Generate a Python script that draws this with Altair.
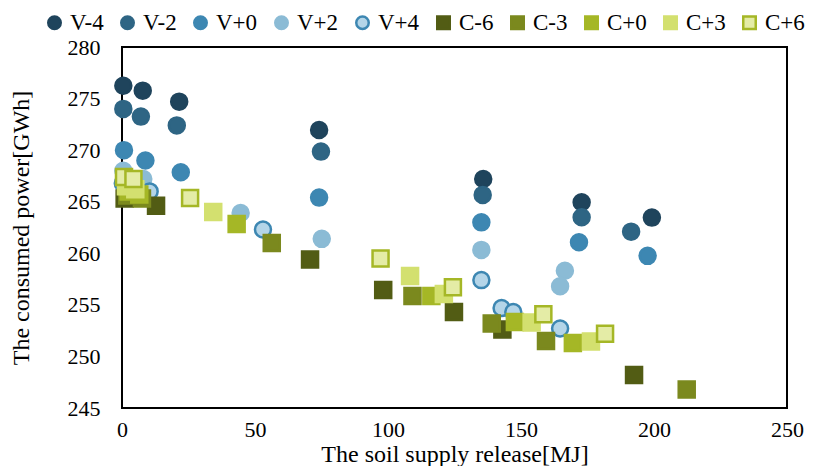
import altair as alt
import pandas as pd

# ---- series definitions ----
series = ["V-4", "V-2", "V+0", "V+2", "V+4", "C-6", "C-3", "C+0", "C+3", "C+6"]
fill_colors = ["#1f445c", "#2e6584", "#3d87b2", "#8bbbd5", "#b4d5e8",
               "#525c14", "#7b891e", "#a5b726", "#d3e06f", "#e4eca6"]
stroke_colors = ["#1f445c", "#2e6584", "#3d87b2", "#8bbbd5", "#3d87b2",
                 "#525c14", "#7b891e", "#a5b726", "#d3e06f", "#a5b726"]
shapes = ["circle"] * 5 + ["square"] * 5

# ---- values ----
vm4_x = [0.5, 7.8, 21.5, 74.1, 135.8, 172.8, 199.2]
vm4_y = [276.25, 275.77, 274.7, 271.96, 267.2, 264.95, 263.46]
vm2_x = [0.5, 7.1, 20.6, 74.8, 135.6, 172.8, 191.4]
vm2_y = [274.0, 273.25, 272.4, 269.86, 265.66, 263.5, 262.1]
vp0_x = [0.75, 8.8, 22.1, 74.1, 135.1, 171.8, 197.6]
vp0_y = [270.0, 269.0, 267.86, 265.4, 263.0, 261.07, 259.75]
vp2_x = [0.5, 8.0, 44.6, 75.1, 135.1, 164.7, 166.5]
vp2_y = [268.0, 267.2, 263.9, 261.4, 260.33, 256.8, 258.3]
vp4_x = [0.3, 10.4, 53.0, 135.1, 142.7, 147.1, 164.7]
vp4_y = [266.8, 266.0, 262.3, 257.4, 254.7, 254.3, 252.7]

cm6_x = [1.0, 12.8, 70.7, 98.2, 124.8, 143.0, 192.5]
cm6_y = [265.3, 264.6, 259.4, 256.45, 254.3, 252.6, 248.2]
cm3_x = [2.0, 7.5, 56.3, 109.2, 139.0, 159.4, 212.3]
cm3_y = [265.6, 265.3, 261.0, 255.85, 253.2, 251.5, 246.8]
cp0_x = [2.5, 6.5, 43.1, 116.3, 147.7, 169.5]
cp0_y = [266.0, 265.7, 262.85, 255.85, 253.35, 251.3]
cp3_x = [1.5, 5.0, 34.3, 108.3, 121.0, 154.0, 176.3]
cp3_y = [266.5, 266.2, 264.0, 257.8, 256.05, 253.3, 251.45]
cp6_x = [0.75, 4.3, 25.6, 97.2, 124.4, 158.4, 181.6]
cp6_y = [267.4, 267.2, 265.35, 259.5, 256.7, 254.1, 252.2]

x_ticks = [0, 50, 100, 150, 200, 250]
y_ticks = [245, 250, 255, 260, 265, 270, 275, 280]
x_range = [0, 250]
y_range = [245, 280]

pairs = [(vm4_x, vm4_y), (vm2_x, vm2_y), (vp0_x, vp0_y), (vp2_x, vp2_y), (vp4_x, vp4_y),
         (cm6_x, cm6_y), (cm3_x, cm3_y), (cp0_x, cp0_y), (cp3_x, cp3_y), (cp6_x, cp6_y)]

rows = []
i = 0
for name, (xs, ys) in zip(series, pairs):
    for xv, yv in zip(xs, ys):
        rows.append({"series": name, "x": xv, "y": yv, "idx": i})
        i += 1
df = pd.DataFrame(rows)

FONT = "Liberation Serif"

x_scale = alt.Scale(domain=x_range, nice=False, zero=False)
y_scale = alt.Scale(domain=y_range, nice=False, zero=False)

legend = alt.Legend(
    title=None, orient="none", legendX=-79, legendY=-36, direction="horizontal",
    labelFont=FONT, labelFontSize=23, labelColor="black", symbolSize=156,
    symbolStrokeWidth=2.5, columnPadding=12, padding=0, labelOffset=4,
)

# plot-area frame (drawn beneath the points, above the grid)
frame = alt.Chart(pd.DataFrame({"a": [0]})).mark_rect(
    fillOpacity=0, stroke="black", strokeWidth=2
).encode(
    x=alt.datum(x_range[0], scale=x_scale),
    x2=alt.datum(x_range[1]),
    y=alt.datum(y_range[0], scale=y_scale),
    y2=alt.datum(y_range[1]),
)

points = alt.Chart(df).mark_point(
    opacity=1, fillOpacity=1, strokeOpacity=1, strokeWidth=2.5, size=256
).encode(
    x=alt.X("x:Q", scale=x_scale,
            axis=alt.Axis(values=x_ticks, title="The soil supply release[MJ]",
                          labelPadding=11, titlePadding=2, labelFlush=False)),
    y=alt.Y("y:Q", scale=y_scale,
            axis=alt.Axis(values=y_ticks, title="The consumed power[GWh]",
                          labelPadding=22, titlePadding=34, labelFlush=False)),
    fill=alt.Fill("series:N", scale=alt.Scale(domain=series, range=fill_colors), legend=legend),
    stroke=alt.Stroke("series:N", scale=alt.Scale(domain=series, range=stroke_colors), legend=legend),
    shape=alt.Shape("series:N", scale=alt.Scale(domain=series, range=shapes), legend=legend),
    order=alt.Order("idx:Q"),
)

chart = alt.layer(frame, points).properties(
    width=665, height=361,
    padding={"left": 122, "top": 47, "right": 32, "bottom": 58},
    autosize=alt.AutoSizeParams(type="none"),
    background="white",
).configure_view(
    stroke=None
).configure_axis(
    labelFont=FONT, labelFontSize=22, labelColor="black",
    titleFont=FONT, titleFontSize=24, titleFontWeight="normal", titleColor="black",
    ticks=False, domain=False, gridColor="#d9d9d9", gridWidth=1.5,
)

chart.save("out.html", embed_options={"renderer": "svg", "actions": False})
